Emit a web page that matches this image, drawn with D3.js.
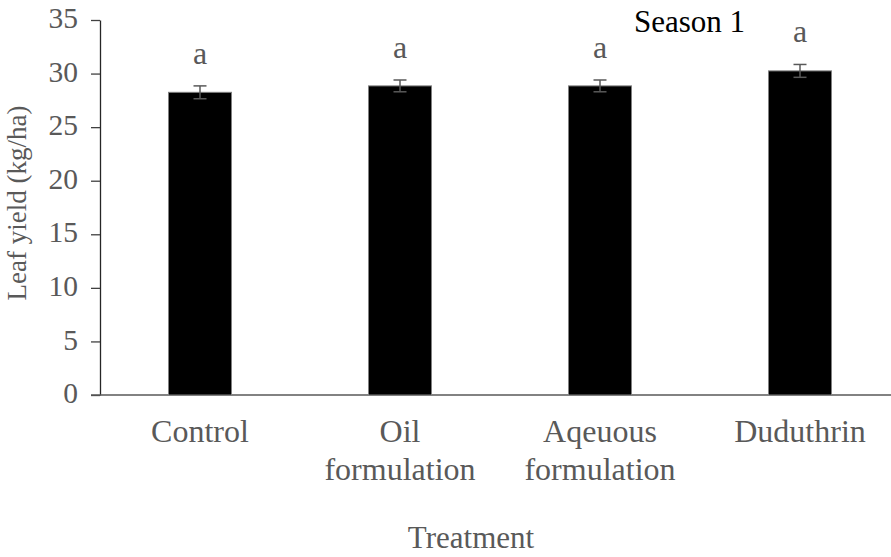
<!DOCTYPE html>
<html>
<head>
<meta charset="utf-8">
<script src="https://cdn.jsdelivr.net/npm/d3@7"></script>
<style>
  html, body { margin: 0; padding: 0; background: #fff; }
  svg { display: block; }
  svg text { font-family: "Liberation Serif", Tinos, "Times New Roman", Times, serif; }
</style>
</head>
<body>
<svg id="chart" width="891" height="557"></svg>
<script>
// Leaf yield per treatment, season 1
const categories = [["Control"], ["Oil", "formulation"], ["Aqeuous", "formulation"], ["Duduthrin"]];
const yieldMeans = [28.25, 28.85, 28.85, 30.25];
const yieldErrors = [0.6, 0.55, 0.55, 0.6];
const groupLetters = ["a", "a", "a", "a"];
const yTicks = [0, 5, 10, 15, 20, 25, 30, 35];

const serif = "'Liberation Serif', Tinos, 'Times New Roman', Times, serif";
const svg = d3.select("#chart");
const textGray = "#595959";

const x = d3.scaleBand()
  .domain(d3.range(categories.length))
  .range([100, 900])
  .paddingInner(0.685)
  .paddingOuter(0.685 / 2);

const y = d3.scaleLinear().domain([0, 35]).range([395, 20]);

// Y axis
const yAxis = svg.append("g")
  .attr("transform", "translate(100,0)")
  .call(d3.axisLeft(y).tickValues(yTicks).tickSize(9).tickPadding(13).tickSizeOuter(0));
yAxis.attr("font-family", serif);
yAxis.select(".domain").attr("stroke", "#262626").attr("stroke-width", 1.3);
yAxis.selectAll(".tick line").attr("stroke", "#404040").attr("stroke-width", 1.3);
yAxis.selectAll(".tick text")
  .attr("fill", textGray)
  .attr("font-family", serif)
  .attr("dy", "0.26em")
  .style("font-size", "29.5px");

// X axis baseline
svg.append("line")
  .attr("x1", 91).attr("x2", 900)
  .attr("y1", y(0)).attr("y2", y(0))
  .attr("stroke", "#595959").attr("stroke-width", 1.4);

// Bars
svg.append("g").selectAll("rect")
  .data(yieldMeans)
  .join("rect")
  .attr("x", (d, i) => x(i))
  .attr("width", x.bandwidth())
  .attr("y", d => y(d))
  .attr("height", d => y(0) - y(d))
  .attr("fill", "#000")
  .attr("stroke", "#808080")
  .attr("stroke-width", 1);

// Error bars
const capHalf = 6.5;
const err = svg.append("g").attr("stroke", "#595959").attr("stroke-width", 1.5);
yieldMeans.forEach((m, i) => {
  const cx = x(i) + x.bandwidth() / 2;
  const top = y(m + yieldErrors[i]);
  const bot = y(m - yieldErrors[i]);
  err.append("line").attr("x1", cx).attr("x2", cx).attr("y1", top).attr("y2", bot);
  err.append("line").attr("x1", cx - capHalf).attr("x2", cx + capHalf).attr("y1", top).attr("y2", top);
  err.append("line").attr("x1", cx - capHalf).attr("x2", cx + capHalf).attr("y1", bot).attr("y2", bot);
});

// Significance letters
svg.append("g").selectAll("text")
  .data(groupLetters)
  .join("text")
  .attr("x", (d, i) => x(i) + x.bandwidth() / 2)
  .attr("y", (d, i) => y(yieldMeans[i] + yieldErrors[i]) - 22)
  .attr("text-anchor", "middle")
  .attr("fill", textGray)
  .attr("font-family", serif)
  .style("font-size", "32px")
  .text(d => d);

// Category labels
const catG = svg.append("g");
categories.forEach((lines, i) => {
  const t = catG.append("text")
    .attr("x", x(i) + x.bandwidth() / 2)
    .attr("y", 442)
    .attr("text-anchor", "middle")
    .attr("fill", textGray)
    .attr("font-family", serif)
    .style("font-size", "32px");
  lines.forEach((ln, j) => {
    t.append("tspan")
      .attr("x", x(i) + x.bandwidth() / 2)
      .attr("dy", j === 0 ? 0 : 38)
      .text(ln);
  });
});

// Axis titles
svg.append("text")
  .attr("x", 471).attr("y", 548)
  .attr("text-anchor", "middle")
  .attr("fill", textGray)
  .attr("font-family", serif)
  .style("font-size", "31px")
  .text("Treatment");

svg.append("text")
  .attr("transform", "translate(26,203) rotate(-90)")
  .attr("text-anchor", "middle")
  .attr("fill", textGray)
  .attr("font-family", serif)
  .style("font-size", "27px")
  .text("Leaf yield (kg/ha)");

// Panel title
svg.append("text")
  .attr("x", 634).attr("y", 32)
  .attr("fill", "#000")
  .attr("font-family", serif)
  .style("font-size", "31px")
  .text("Season 1");
</script>
</body>
</html>
